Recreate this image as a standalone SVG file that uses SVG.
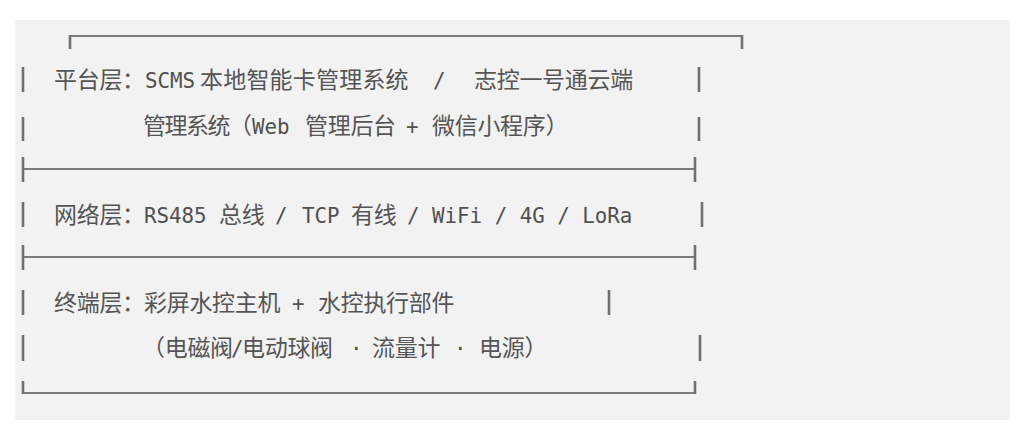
<svg xmlns="http://www.w3.org/2000/svg" width="1024" height="432" viewBox="0 0 1024 432">
<style>
.cjk{font-family:"Noto Sans CJK SC","Noto Sans",sans-serif;font-size:23px;letter-spacing:-0.3px;fill:#555555}
.wide{letter-spacing:0.2px}
.tight{letter-spacing:-1.5px}
.lat{font-family:"DejaVu Sans Mono","Liberation Mono",monospace;font-size:20.8px;fill:#505050}
.bar{stroke:#707070;stroke-width:2.6;fill:none}
.rule{stroke:#7c7c7c;stroke-width:1.8;fill:none}
</style>
<rect width="1024" height="432" fill="#ffffff"/>
<rect x="15" y="20" width="995" height="400" fill="#f2f2f2"/>
<g id="connectors">
<path class="rule" d="M70,36 H742"/>
<path class="bar" d="M70,35 V49 M742,35 V49"/>
<path class="rule" d="M23,169 H695"/>
<path class="bar" d="M23,157 V182 M695,157 V182"/>
<path class="rule" d="M23,257 H695"/>
<path class="bar" d="M23,245 V270 M695,245 V270"/>
<path class="rule" d="M23,393 H695"/>
<path class="bar" d="M23,381 V394 M695,381 V394"/>
</g>
<g id="platform-layer">
<path class="bar" d="M23,67 V92 M699,67 V92 M23,117 V141 M699,117 V141"/>
<text y="88"><tspan class="cjk" x="54">平台层：</tspan><tspan class="lat" x="145">SCMS</tspan><tspan class="cjk wide" x="200">本地智能卡管理系统</tspan><tspan class="lat" x="433">/</tspan><tspan class="cjk" x="474">志控一号通云端</tspan></text>
<text y="134"><tspan class="cjk tight" x="143">管理系统（</tspan><tspan class="lat" x="252">Web</tspan><tspan class="cjk" x="305">管理后台</tspan><tspan class="lat" x="406">+</tspan><tspan class="cjk" x="432">微信小程序）</tspan></text>
</g>
<g id="network-layer">
<path class="bar" d="M23,202 V227 M702,202 V227"/>
<text y="223"><tspan class="cjk" x="54">网络层：</tspan><tspan class="lat" x="144">RS485</tspan><tspan class="cjk" x="219">总线</tspan><tspan class="lat" x="275">/</tspan><tspan class="lat" x="302">TCP</tspan><tspan class="cjk" x="351">有线</tspan><tspan class="lat" x="407" xml:space="preserve">/ WiFi / 4G / LoRa</tspan></text>
</g>
<g id="terminal-layer">
<path class="bar" d="M23,290 V315 M609,290 V315 M23,335 V361 M700,335 V361"/>
<text y="311"><tspan class="cjk" x="54">终端层：</tspan><tspan class="cjk" x="144">彩屏水控主机</tspan><tspan class="lat" x="292">+</tspan><tspan class="cjk" x="318">水控执行部件</tspan></text>
<text y="356"><tspan class="cjk" x="142">（电磁阀</tspan><tspan class="lat" x="231">/</tspan><tspan class="cjk" x="242">电动球阀</tspan><tspan class="lat" x="350">·</tspan><tspan class="cjk" x="372">流量计</tspan><tspan class="lat" x="454">·</tspan><tspan class="cjk" x="479">电源）</tspan></text>
</g>
</svg>
